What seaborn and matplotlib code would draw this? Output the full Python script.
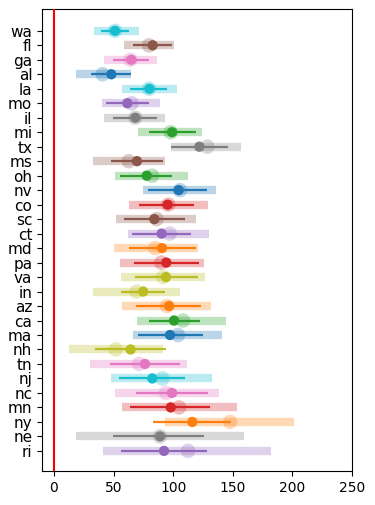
import numpy as np
import pandas as pd
import matplotlib
matplotlib.use('Agg')
import matplotlib.pyplot as plt
import seaborn as sns

# states, top to bottom
states = ['wa', 'fl', 'ga', 'al', 'la', 'mo', 'il', 'mi', 'tx', 'ms',
          'oh', 'nv', 'co', 'sc', 'ct', 'md', 'pa', 'va', 'in', 'az',
          'ca', 'ma', 'nh', 'tn', 'nj', 'nc', 'mn', 'ny', 'ne', 'ri']
colors = ['tab:cyan', 'tab:brown', 'tab:pink', 'tab:blue', 'tab:cyan', 'tab:purple', 'tab:gray',
          'tab:green', 'tab:gray', 'tab:brown', 'tab:green', 'tab:blue', 'tab:red', 'tab:brown',
          'tab:purple', 'tab:orange', 'tab:red', 'tab:olive', 'tab:olive', 'tab:orange', 'tab:green',
          'tab:blue', 'tab:olive', 'tab:pink', 'tab:cyan', 'tab:pink', 'tab:red', 'tab:orange',
          'tab:gray', 'tab:purple']

# full range (light bar)
range_lo = [33.6, 58.7, 41.9, 18.5, 57.0, 40.3, 41.9, 70.5, 97.9, 32.7,
            50.9, 74.4, 62.7, 51.7, 61.8, 50.3, 55.4, 56.0, 32.7, 57.0,
            69.6, 66.3, 12.6, 30.2, 47.8, 51.2, 57.0, 93.1, 18.5, 41.1]
range_hi = [71.1, 100.7, 86.1, 64.3, 102.9, 88.9, 92.8, 124.2, 156.6, 93.1,
            112.4, 135.9, 129.2, 119.1, 130.0, 120.8, 125.8, 126.7, 105.7, 131.7,
            144.3, 140.9, 91.4, 111.6, 132.6, 138.4, 153.5, 201.3, 159.4, 182.0]
# big faded point
center = [51.2, 79.7, 64.0, 40.8, 79.7, 65.2, 68.2, 97.9, 128.6, 62.7,
          82.2, 105.7, 95.9, 86.1, 97.1, 85.0, 90.0, 91.7, 69.4, 94.8,
          108.2, 104.0, 51.7, 71.3, 90.9, 94.0, 104.9, 147.7, 88.9, 112.4]
# mean with error bar
mean = [51.2, 82.8, 64.9, 48.1, 80.0, 61.5, 68.2, 99.0, 121.9, 69.6,
        77.8, 104.6, 95.4, 84.2, 90.3, 90.6, 94.2, 94.0, 74.9, 96.5,
        100.7, 97.3, 64.3, 76.3, 82.5, 99.0, 97.9, 116.0, 88.9, 92.3]
err_lo = [39.4, 66.3, 49.5, 31.0, 63.8, 43.6, 49.5, 79.7, 98.2, 47.8,
          55.4, 78.6, 71.0, 58.5, 65.4, 62.7, 67.1, 68.0, 56.2, 68.8,
          79.7, 70.5, 34.4, 47.0, 54.5, 68.8, 63.8, 83.1, 49.5, 56.2]
err_hi = [63.2, 99.0, 79.4, 64.3, 94.5, 79.4, 86.1, 119.1, 145.7, 91.4,
          99.0, 128.4, 117.4, 109.9, 114.9, 119.1, 121.6, 120.8, 93.1, 123.3,
          122.5, 125.0, 94.0, 105.7, 109.9, 129.2, 130.9, 148.5, 125.8, 128.4]

df = pd.DataFrame({'state': states, 'color': colors, 'lo': range_lo, 'hi': range_hi,
                   'center': center, 'mean': mean, 'elo': err_lo, 'ehi': err_hi})
df['y'] = np.arange(len(df))
palette = dict(zip(df['state'], df['color']))

fig, ax = plt.subplots(figsize=(3.75, 5.05), dpi=100)
fig.subplots_adjust(left=0.112, right=0.939, bottom=0.067, top=0.982)

ax.hlines(df['y'], df['lo'], df['hi'], colors=df['color'], lw=6, alpha=0.3, zorder=1)
sns.scatterplot(data=df, x='center', y='y', hue='state', palette=palette, s=110,
                alpha=0.3, linewidth=0, legend=False, ax=ax, zorder=2)
ax.hlines(df['y'], df['elo'], df['ehi'], colors=df['color'], lw=1.6, zorder=3)
sns.scatterplot(data=df, x='mean', y='y', hue='state', palette=palette, s=55,
                linewidth=0, legend=False, ax=ax, zorder=4)

ax.axvline(0, color='red', lw=1.5, zorder=5)
ax.set_yticks(df['y'])
ax.set_yticklabels(df['state'], fontsize=11)
ax.set_ylim(30.4, -1.5)
ax.set_xlim(-10, 250)
ax.set_xlabel('')
ax.set_ylabel('')

fig.savefig('out.png', dpi=100)
